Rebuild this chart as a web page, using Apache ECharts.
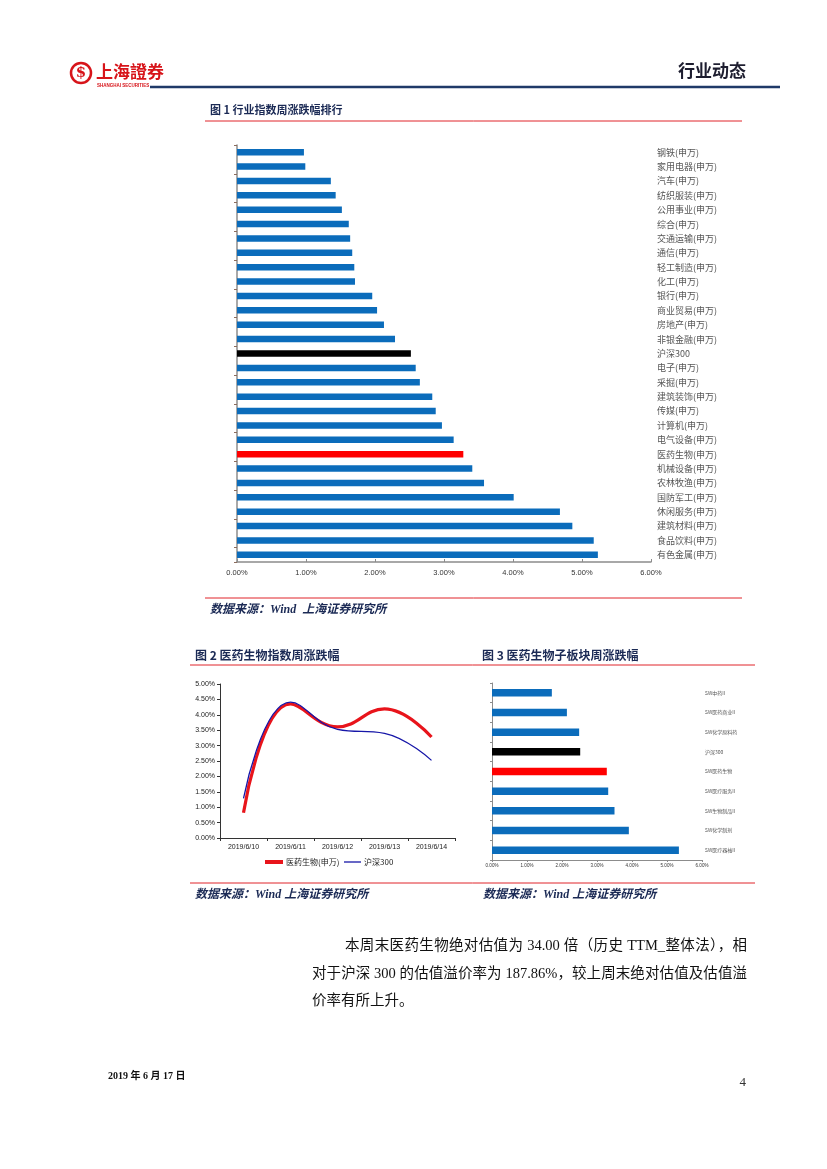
<!DOCTYPE html>
<html>
<head>
<meta charset="utf-8">
<script src="https://cdn.jsdelivr.net/npm/echarts@6/dist/echarts.min.js"></script>
<style>
html,body{margin:0;padding:0;background:#fff;}
#page{position:relative;width:827px;height:1169px;overflow:hidden;}
#chart{position:absolute;left:0;top:0;width:827px;height:1169px;}
.para{position:absolute;font-family:"Liberation Serif","Noto Sans CJK SC",serif;font-size:14.5px;color:#111;white-space:nowrap;}
.just{text-align:justify;text-align-last:justify;white-space:normal;}
</style>
</head>
<body>
<div id="page">
<div id="chart"></div>
<div class="para just" style="left:345px;top:933px;width:402px;">本周末医药生物绝对估值为 34.00 倍（历史 TTM_整体法），相</div>
<div class="para just" style="left:312px;top:961px;width:435px;">对于沪深 300 的估值溢价率为 187.86%，较上周末绝对估值及估值溢</div>
<div class="para" style="left:312px;top:988px;">价率有所上升。</div>
</div>
<script>
// ---- Data ----
const industryCats = ['钢铁(申万)','家用电器(申万)','汽车(申万)','纺织服装(申万)','公用事业(申万)','综合(申万)','交通运输(申万)','通信(申万)','轻工制造(申万)','化工(申万)','银行(申万)','商业贸易(申万)','房地产(申万)','非银金融(申万)','沪深300','电子(申万)','采掘(申万)','建筑装饰(申万)','传媒(申万)','计算机(申万)','电气设备(申万)','医药生物(申万)','机械设备(申万)','农林牧渔(申万)','国防军工(申万)','休闲服务(申万)','建筑材料(申万)','食品饮料(申万)','有色金属(申万)'];
const industryVals = [0.97,0.99,1.36,1.43,1.52,1.62,1.64,1.67,1.70,1.71,1.96,2.03,2.13,2.29,2.52,2.59,2.65,2.83,2.88,2.97,3.14,3.28,3.41,3.58,4.01,4.68,4.86,5.17,5.23];

const dates = ['2019/6/10','2019/6/11','2019/6/12','2019/6/13','2019/6/14'];
const pharmaSeries = [0.82,4.35,3.61,4.19,3.28];
const hs300Series = [1.29,4.41,3.53,3.40,2.52];
const lineNames = ['医药生物(申万)','沪深300'];

const subCats = ['SW中药II','SW医药商业II','SW化学原料药','沪深300','SW医药生物','SW医疗服务II','SW生物制品II','SW化学制剂','SW医疗器械II'];
const subVals = [1.71,2.14,2.49,2.52,3.28,3.32,3.50,3.91,5.34];

// ---- Styles ----
const BLUE = '#0b6cbb', RED = '#ff0000', BLACK = '#000000', NAVY = '#1b2a55';
const LRED = '#e8141b', LBLUE = '#1616a8';
function barColor(name){
  if (name.indexOf('沪深300') >= 0) return BLACK;
  if (name.indexOf('医药生物') >= 0) return RED;
  return BLUE;
}
const pct = v => v.toFixed(2) + '%';
const CJK = '"Noto Sans CJK SC","Liberation Serif",sans-serif';
const SERIF = '"Liberation Serif","Noto Sans CJK SC",serif';
const SANS = '"Liberation Sans",sans-serif';

const chart = echarts.init(document.getElementById('chart'), null, {renderer:'canvas'});

const option = {
  animation:false,
  backgroundColor:'#fff',
  grid:[
    {left:237, top:145, width:414, height:417},
    {left:220, top:684, width:235, height:154},
    {left:492, top:683, width:210, height:177}
  ],
  xAxis:[
    {gridIndex:0, type:'value', min:0, max:6, interval:1,
     axisLine:{show:true, lineStyle:{color:'#8c8c8c', width:1.5}},
     axisTick:{show:true, inside:true, length:3, lineStyle:{color:'#8c8c8c'}},
     splitLine:{show:false},
     axisLabel:{formatter:pct, fontSize:7.5, color:'#333', margin:7, fontFamily:SANS}},
    {gridIndex:1, type:'category', data:dates, boundaryGap:true,
     axisLine:{show:true, lineStyle:{color:'#333', width:1}},
     axisTick:{show:true, length:3, lineStyle:{color:'#333'}},
     axisLabel:{fontSize:7, color:'#222', margin:6, fontFamily:SANS}},
    {gridIndex:2, type:'value', min:0, max:6, interval:1,
     axisLine:{show:true, lineStyle:{color:'#8c8c8c', width:1}},
     axisTick:{show:true, length:2, lineStyle:{color:'#8c8c8c'}},
     splitLine:{show:false},
     axisLabel:{formatter:pct, fontSize:4.5, color:'#333', margin:3, fontFamily:SANS}}
  ],
  yAxis:[
    {gridIndex:0, type:'category', data:industryCats, inverse:true,
     axisLine:{show:true, lineStyle:{color:'#8c8c8c', width:1.5}},
     axisTick:{show:true, length:3, lineStyle:{color:'#8c6c5c'}},
     axisLabel:{show:false}},
    {gridIndex:0, type:'category', data:industryCats, inverse:true, position:'right',
     axisLine:{show:false}, axisTick:{show:false},
     axisLabel:{show:true, fontSize:9, color:'#555', margin:6, fontFamily:CJK, align:'left'}},
    {gridIndex:1, type:'value', min:0, max:5, interval:0.5,
     axisLine:{show:true, lineStyle:{color:'#333', width:1}},
     axisTick:{show:true, length:3, lineStyle:{color:'#333'}},
     splitLine:{show:false},
     axisLabel:{formatter:pct, fontSize:7, color:'#222', margin:5, fontFamily:SANS}},
    {gridIndex:2, type:'category', data:subCats, inverse:true,
     axisLine:{show:true, lineStyle:{color:'#8c8c8c', width:1}},
     axisTick:{show:true, length:2, lineStyle:{color:'#8c8c8c'}},
     axisLabel:{show:false}},
    {gridIndex:2, type:'category', data:subCats, inverse:true, position:'right',
     axisLine:{show:false}, axisTick:{show:false},
     axisLabel:{show:true, fontSize:5, color:'#555', margin:3, fontFamily:CJK, align:'left'}}
  ],
  series:[
    {type:'bar', xAxisIndex:0, yAxisIndex:0, barWidth:6.5,
     data:industryVals.map((v,i)=>({value:v, itemStyle:{color:barColor(industryCats[i])}}))},
    {type:'line', name:lineNames[0], xAxisIndex:1, yAxisIndex:2, data:pharmaSeries,
     smooth:0.45, symbol:'none', lineStyle:{color:LRED, width:3.2}, itemStyle:{color:LRED}},
    {type:'line', name:lineNames[1], xAxisIndex:1, yAxisIndex:2, data:hs300Series,
     smooth:0.45, symbol:'none', lineStyle:{color:LBLUE, width:1.3}, itemStyle:{color:LBLUE}},
    {type:'bar', xAxisIndex:2, yAxisIndex:3, barWidth:7.5,
     data:subVals.map((v,i)=>({value:v, itemStyle:{color:barColor(subCats[i])}}))}
  ],
  graphic:[
    // header logo
    {type:'circle', shape:{cx:81, cy:73, r:10}, style:{fill:'none', stroke:'#d7141a', lineWidth:2.5}},
    {type:'text', x:81, y:73, style:{text:'$', fill:'#d7141a', font:'bold 15px "DejaVu Serif"', align:'center', verticalAlign:'middle'}},
    {type:'text', x:96, y:72, style:{text:'上海證券', fill:'#d7141a', font:'bold 17px "Noto Sans CJK TC"', verticalAlign:'middle'}},
    {type:'text', x:97, y:86, style:{text:'SHANGHAI SECURITIES', fill:'#d7141a', font:'bold 4.5px "Liberation Sans"', verticalAlign:'middle'}},
    {type:'text', x:746, y:71, style:{text:'行业动态', fill:'#1d1d2f', font:'bold 17px '+CJK, align:'right', verticalAlign:'middle'}},
    {type:'line', shape:{x1:150, y1:87, x2:780, y2:87}, style:{stroke:'#1f3a68', lineWidth:2.5}},
    // figure 1
    {type:'text', x:210, y:110, style:{text:'图 1 行业指数周涨跌幅排行', fill:NAVY, font:'bold 11px '+CJK, verticalAlign:'middle'}},
    {type:'line', shape:{x1:205, y1:121, x2:742, y2:121}, style:{stroke:'#e0242a', lineWidth:1}},
    {type:'line', shape:{x1:205, y1:598, x2:742, y2:598}, style:{stroke:'#e0242a', lineWidth:1}},
    {type:'text', x:210, y:610, style:{text:'数据来源：Wind  上海证券研究所', fill:NAVY, font:'italic bold 12px '+SERIF, verticalAlign:'middle'}},
    // figure 2/3
    {type:'text', x:195, y:655, style:{text:'图 2 医药生物指数周涨跌幅', fill:NAVY, font:'bold 12px '+CJK, verticalAlign:'middle'}},
    {type:'text', x:482, y:655, style:{text:'图 3 医药生物子板块周涨跌幅', fill:NAVY, font:'bold 12px '+CJK, verticalAlign:'middle'}},
    {type:'line', shape:{x1:190, y1:665, x2:755, y2:665}, style:{stroke:'#e0242a', lineWidth:1}},
    // legend of figure 2
    {type:'line', shape:{x1:265, y1:862, x2:283, y2:862}, style:{stroke:LRED, lineWidth:4}},
    {type:'text', x:286, y:862, style:{text:lineNames[0], fill:'#222', font:'8px '+CJK, verticalAlign:'middle'}},
    {type:'line', shape:{x1:344, y1:862, x2:361, y2:862}, style:{stroke:LBLUE, lineWidth:1.3}},
    {type:'text', x:364, y:862, style:{text:lineNames[1], fill:'#222', font:'8px '+CJK, verticalAlign:'middle'}},
    {type:'line', shape:{x1:190, y1:883, x2:755, y2:883}, style:{stroke:'#e0242a', lineWidth:1}},
    {type:'text', x:195, y:895, style:{text:'数据来源：Wind 上海证券研究所', fill:NAVY, font:'italic bold 12px '+SERIF, verticalAlign:'middle'}},
    {type:'text', x:483, y:895, style:{text:'数据来源：Wind 上海证券研究所', fill:NAVY, font:'italic bold 12px '+SERIF, verticalAlign:'middle'}},
    // footer
    {type:'text', x:108, y:1076, style:{text:'2019 年 6 月 17 日', fill:'#111', font:'bold 10px '+SERIF, verticalAlign:'middle'}},
    {type:'text', x:746, y:1083, style:{text:'4', fill:'#333', font:'13px '+SERIF, align:'right', verticalAlign:'middle'}}
  ]
};
chart.setOption(option);
</script>
</body>
</html>
